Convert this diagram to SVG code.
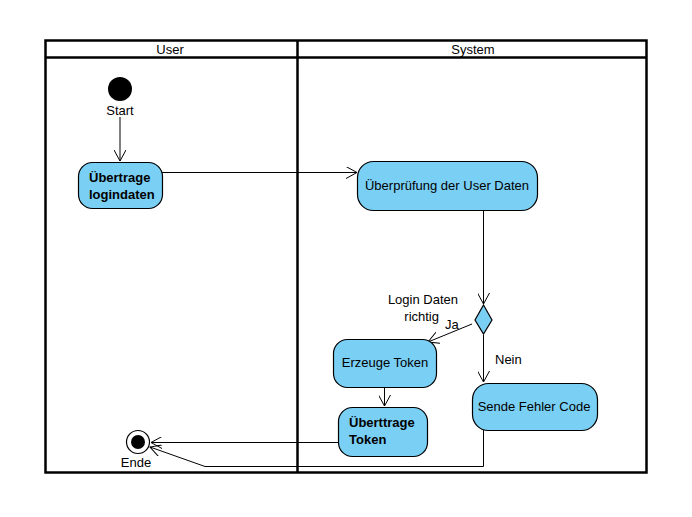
<svg xmlns="http://www.w3.org/2000/svg" width="692" height="517" viewBox="0 0 692 517">
  <defs>
    <marker id="open" viewBox="0 0 12 12" refX="11" refY="6" markerWidth="12" markerHeight="12" markerUnits="userSpaceOnUse" orient="auto">
      <path d="M0,0 L11,6 L0,12" fill="none" stroke="#000" stroke-width="1"/>
    </marker>
  </defs>
  <style>
    text { font-family: "Liberation Sans", Arial, sans-serif; font-size: 13px; fill: #000; }
    .lane { fill: none; stroke: #000; stroke-width: 2.5; }
    .act { fill: #7ACFF5; stroke: #000; stroke-width: 1.2; }
    .b { font-weight: bold; }
    .c { text-anchor: middle; }
    .r { text-anchor: end; }
    .edge { fill: none; stroke: #000; stroke-width: 1; marker-end: url(#open); }
  </style>
  <rect width="692" height="517" fill="#fff"/>

  <!-- swimlanes -->
  <g id="lanes">
    <rect class="lane" x="45.5" y="40.5" width="601" height="432"/>
    <line class="lane" x1="45.5" y1="57.5" x2="646.5" y2="57.5"/>
    <line class="lane" x1="297.5" y1="40.5" x2="297.5" y2="472.5"/>
    <text class="c" x="170" y="54">User</text>
    <text class="c" x="473" y="54">System</text>
  </g>

  <!-- connectors -->
  <g id="edges">
    <line class="edge" x1="120" y1="117" x2="120" y2="161"/>
    <line class="edge" x1="162" y1="172.5" x2="357" y2="172.5"/>
    <polyline class="edge" points="483.5,210 483.5,304"/>
    <line class="edge" x1="472" y1="324" x2="428" y2="342"/>
    <line class="edge" x1="483.5" y1="335" x2="483.5" y2="382"/>
    <line class="edge" x1="384.5" y1="387" x2="384.5" y2="406"/>
    <line class="edge" x1="338" y1="442.5" x2="151" y2="442.5"/>
    <polyline class="edge" points="483.5,430 483.5,466.5 205,466.5 150,447"/>
    <text x="445" y="329">Ja</text>
    <text class="r" x="458" y="304">Login Daten</text>
    <text class="r" x="439" y="321">richtig</text>
    <text x="495" y="364">Nein</text>
  </g>

  <g id="start">
    <circle cx="120" cy="89" r="12" fill="#000"/>
    <text class="c" x="120" y="115">Start</text>
  </g>

  <g id="uebertrage-logindaten">
    <rect class="act" x="78.5" y="162.5" width="84" height="46" rx="14"/>
    <text class="b" x="89" y="182">Übertrage</text>
    <text class="b" x="89" y="199">logindaten</text>
  </g>

  <g id="ueberpruefung">
    <rect class="act" x="357.5" y="161.5" width="180" height="49" rx="16"/>
    <text class="c" x="447" y="190">Überprüfung der User Daten</text>
  </g>

  <g id="decision">
    <polygon points="483.5,305 492,320 483.5,334 475,320" fill="#7ACFF5" stroke="#000" stroke-width="1.2"/>
  </g>

  <g id="erzeuge-token">
    <rect class="act" x="333.5" y="339.5" width="103" height="48" rx="14"/>
    <text class="c" x="385" y="367">Erzeuge Token</text>
  </g>

  <g id="uebertrage-token">
    <rect class="act" x="338.5" y="407.5" width="89" height="49" rx="14"/>
    <text class="b" x="349" y="427">Überttrage</text>
    <text class="b" x="349" y="444">Token</text>
  </g>

  <g id="sende-fehler">
    <rect class="act" x="472.5" y="383.5" width="125" height="47" rx="16"/>
    <text class="c" x="534" y="411">Sende Fehler Code</text>
  </g>

  <g id="ende">
    <circle cx="138" cy="442" r="11.5" fill="#fff" stroke="#000" stroke-width="1.2"/>
    <circle cx="138" cy="442" r="7" fill="#000"/>
    <text class="c" x="136" y="467">Ende</text>
  </g>
</svg>
